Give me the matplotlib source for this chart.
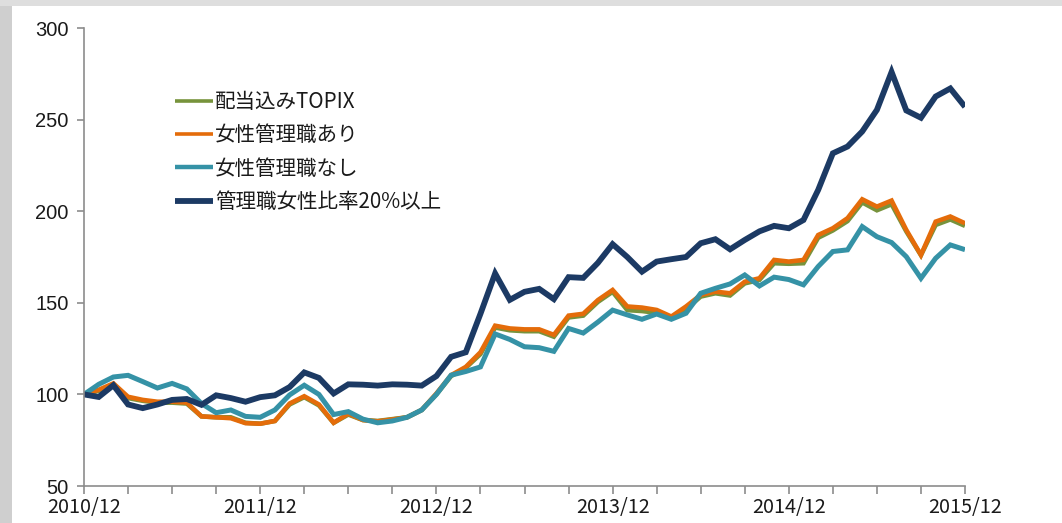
import matplotlib
matplotlib.use("Agg")
import matplotlib.pyplot as plt
from matplotlib.patches import Rectangle
import numpy as np

plt.rcParams['font.family'] = ['Noto Sans CJK JP', 'DejaVu Sans']

series_names = ["配当込みTOPIX", "女性管理職あり", "女性管理職なし", "管理職女性比率20%以上"]
series_colors = ["#77933c", "#e46c0a", "#3592a6", "#1c3a64"]

topix = [100, 102, 105.5, 98, 96.5, 95.5, 95.5, 95, 88, 87.5, 87.5, 84.5, 84, 85.5, 94.5, 98.5,
         94, 84.5, 89, 86, 85.5, 86.5, 87.5, 91.5, 100, 110, 114.5, 122, 136.5, 135, 134.5, 134.5,
         131.5, 142, 143, 150.5, 156, 146, 145.5, 144.5, 142, 146.5, 153.4, 155.2, 154, 160.6,
         162.5, 171.6, 171.3, 171.6, 185.5, 189.5, 194.6, 204.8, 200.5, 203.8, 189, 176, 192.5, 195.5, 192]
with_female = [100, 102.5, 106, 98.7, 97, 96, 96, 95.5, 88, 87.5, 87, 84.3, 84, 85.5, 95, 99,
               94.5, 84.5, 89.5, 86, 85.3, 86.3, 87.5, 91.5, 100.5, 110.5, 115, 123, 137.5, 136, 135.5, 135.5,
               132.5, 143, 144, 151.5, 157, 148, 147.4, 146.1, 142.5, 148, 154.3, 156.1, 155.2, 161.5,
               163.4, 173.4, 172.5, 173.4, 187, 190.7, 196.2, 206.5, 202.5, 205.8, 189.8, 176.1, 194.3, 197.1, 193.4]
without_female = [100, 105.5, 109.5, 110.4, 107, 103.5, 106, 103, 95, 90, 91.5, 88, 87.5, 91.5, 99.7, 105,
                  100, 89, 90.6, 86.5, 84.5, 85.5, 87.5, 91.5, 100, 110.5, 112.5, 115, 133, 130, 126, 125.5,
                  123.5, 136, 133.5, 139.5, 146, 143.4, 141, 143.9, 141, 144.3, 155.2, 157.9, 160.3, 165.2,
                  159.2, 164, 162.7, 159.8, 169.8, 178, 178.9, 191.6, 186.1, 182.9, 175.2, 163.4, 174.3, 181.6, 179]
ratio20 = [100, 98.6, 105, 94.5, 92.5, 94.5, 97, 97.5, 94.3, 99.5, 98, 96, 98.5, 99.5, 104, 112,
           109, 100.5, 105.5, 105.3, 104.8, 105.5, 105.3, 104.8, 110, 120.5, 123, 144, 166, 151.6, 156, 157.6,
           152, 164, 163.6, 171.8, 182, 175, 167, 172.5, 173.8, 175, 182.5, 184.7, 179.2, 184.3,
           189, 192, 190.7, 195.2, 211.6, 231.6, 235.3, 243.5, 255.3, 276, 255, 251, 262.6, 267, 257]

x_tick_labels = ["2010/12", "2011/12", "2012/12", "2013/12", "2014/12", "2015/12"]
y_ticks = [50, 100, 150, 200, 250, 300]

W, H = 1062, 523
fig = plt.figure(figsize=(W / 100, H / 100), dpi=100)
fig.patch.set_facecolor("white")
# gray frame bands (left and top)
fig.add_artist(Rectangle((0, 0), 12 / W, 1, transform=fig.transFigure,
                         facecolor="#cfcfcf", edgecolor="none", zorder=-5))
fig.add_artist(Rectangle((0, 1 - 6 / H), 1, 6 / H, transform=fig.transFigure,
                         facecolor="#dedede", edgecolor="none", zorder=-5))

ax = fig.add_axes([84 / W, (H - 486) / H, (965 - 84) / W, (486 - 28) / H])
ax.set_facecolor("none")

months = np.arange(len(topix))
all_series = [topix, with_female, without_female, ratio20]
widths = [3.3, 3.3, 3.6, 4.2]
for vals, name, col, lw in zip(all_series, series_names, series_colors, widths):
    ax.plot(months, vals, color=col, lw=lw, label=name, solid_joinstyle="miter",
            solid_capstyle="butt")

ax.set_xlim(0, 60)
ax.set_ylim(50, 300)
for s in ["top", "right"]:
    ax.spines[s].set_visible(False)
for s in ["left", "bottom"]:
    ax.spines[s].set_color("#8c8c8c")
    ax.spines[s].set_linewidth(1.2)

ax.set_xticks(np.arange(0, 61, 3), minor=True)
ax.set_xticks(np.arange(0, 61, 12))
ax.set_xticklabels(x_tick_labels, fontsize=14.3, color="#1a1a1a", family=["Noto Sans CJK JP", "DejaVu Sans"])
ax.tick_params(axis="x", which="both", direction="out", length=6, width=1.2, color="#8c8c8c", pad=2)
ax.set_yticks(y_ticks)
ax.set_yticklabels([str(v) for v in y_ticks], fontsize=14.5, color="#1a1a1a", family=["Liberation Sans"])
ax.tick_params(axis="y", direction="out", length=5, width=1.2, color="#8c8c8c", pad=6)

leg = ax.legend(loc="upper left", bbox_to_anchor=(175 / W, 1 - 91 / H), bbox_transform=fig.transFigure,
                frameon=False, fontsize=14.8, handlelength=1.85, handletextpad=0.1, labelspacing=0.55,
                borderpad=0, borderaxespad=0)
for ln, lw in zip(leg.get_lines(), [2.6, 2.6, 3.2, 4.2]):
    ln.set_linewidth(lw)
for t in leg.get_texts():
    t.set_color("#1a1a1a")

fig.savefig("out.png", dpi=100, facecolor=fig.get_facecolor())
